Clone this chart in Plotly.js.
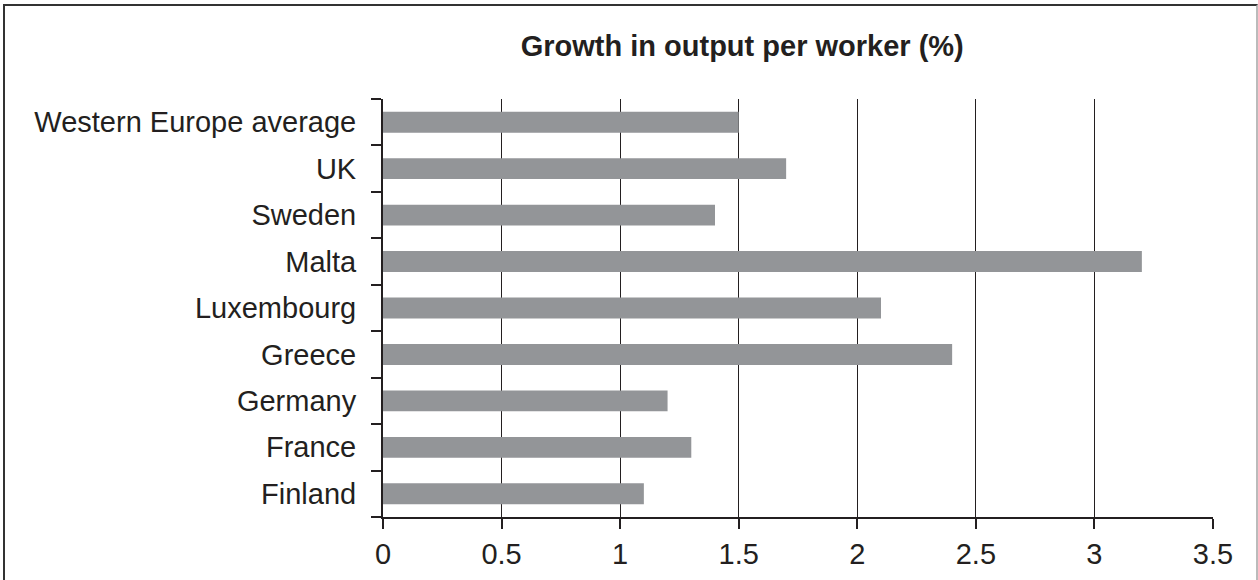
<!DOCTYPE html>
<html>
<head>
<meta charset="utf-8">
<script src="https://cdn.plot.ly/plotly-3.0.1.min.js"></script>
<style>
  html, body { margin: 0; padding: 0; background: #ffffff; overflow: hidden; }
  #chart { position: absolute; left: 0; top: 0; width: 1258px; height: 580px; }
  #frame { position: absolute; left: 3px; top: 4px; width: 1251px; height: 620px;
           border-top: 2px solid #333333; border-left: 2px solid #333333;
           border-right: 2px solid #bbbbbb; pointer-events: none; z-index: 5; }
</style>
</head>
<body>
<div id="chart"></div>
<div id="frame"></div>
<script>
// Data
const categories = ["Finland", "France", "Germany", "Greece", "Luxembourg", "Malta", "Sweden", "UK", "Western Europe average"];
const growthValues = [1.1, 1.3, 1.2, 2.4, 2.1, 3.2, 1.4, 1.7, 1.5];
const xTickValues = [0, 0.5, 1, 1.5, 2, 2.5, 3, 3.5];
const xTickLabels = ["0", "0.5", "1", "1.5", "2", "2.5", "3", "3.5"];
const chartTitle = "Growth in output per worker (%)";

const ink = "#231f20";
const barColor = "#939598";
const font = "Liberation Sans, Arial, Helvetica, sans-serif";

const data = [{
  type: "bar",
  orientation: "h",
  y: categories,
  x: growthValues,
  marker: { color: barColor, line: { width: 0 } },
  hoverinfo: "x+y"
}];

const layout = {
  width: 1258,
  height: 580,
  paper_bgcolor: "#ffffff",
  plot_bgcolor: "#ffffff",
  margin: { l: 383, r: 45, t: 99, b: 63, pad: 0 },
  showlegend: false,
  bargap: 0.55,
  font: { family: font, color: ink, size: 29 },
  title: {
    text: "<b>" + chartTitle + "</b>",
    font: { family: font, size: 29, color: ink },
    xref: "container", yref: "container",
    x: 0.59, xanchor: "center",
    y: 1 - 46 / 580, yanchor: "middle"
  },
  xaxis: {
    range: [0, 3.5],
    tickmode: "array",
    tickvals: xTickValues,
    ticktext: xTickLabels,
    ticks: "outside",
    ticklen: 10,
    tickwidth: 2,
    tickcolor: ink,
    showline: true,
    linewidth: 2,
    linecolor: ink,
    showgrid: true,
    gridcolor: ink,
    gridwidth: 1,
    zeroline: false,
    tickfont: { family: font, size: 29, color: ink },
    ticklabelstandoff: 0,
    fixedrange: true
  },
  yaxis: {
    type: "category",
    categoryorder: "array",
    categoryarray: categories,
    range: [-0.5, 8.5],
    tickson: "boundaries",
    ticks: "outside",
    ticklen: 10,
    tickwidth: 2,
    tickcolor: ink,
    showline: true,
    linewidth: 2,
    linecolor: ink,
    showgrid: false,
    zeroline: false,
    tickfont: { family: font, size: 29, color: ink },
    ticklabelstandoff: 19,
    fixedrange: true
  }
};

Plotly.newPlot("chart", data, layout, { displayModeBar: false, staticPlot: true });
</script>
</body>
</html>
